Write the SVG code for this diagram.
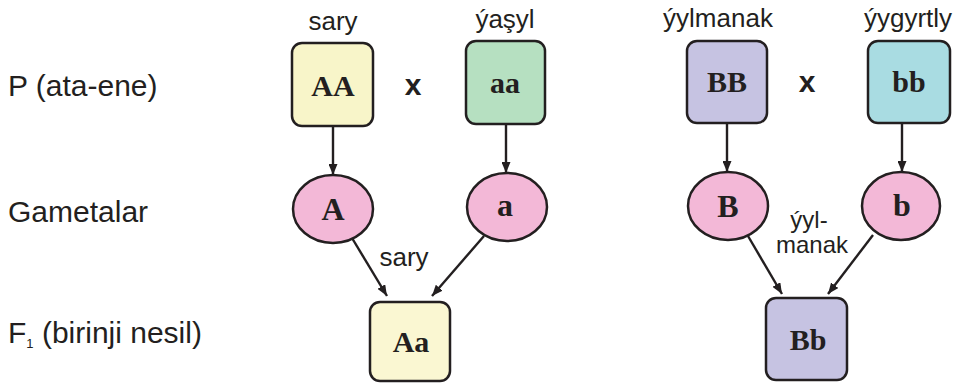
<svg xmlns="http://www.w3.org/2000/svg" width="959" height="383" viewBox="0 0 959 383">
<style>
.lbl{font-family:"Liberation Sans",Arial,sans-serif;font-size:26px;fill:#231f20;text-anchor:middle}
.lbl2{font-family:"Liberation Sans",Arial,sans-serif;font-size:24px;fill:#231f20;text-anchor:middle}
.side{font-family:"Liberation Sans",Arial,sans-serif;font-size:30px;fill:#231f20}
.gen{font-family:"Liberation Serif","Times New Roman",serif;font-weight:bold;font-size:30px;fill:#231f20;text-anchor:middle}
.gam{font-family:"Liberation Serif","Times New Roman",serif;font-weight:bold;font-size:32px;fill:#231f20;text-anchor:middle}
.cross{font-family:"Liberation Sans",Arial,sans-serif;font-weight:bold;font-size:30px;fill:#231f20;text-anchor:middle}
.box{stroke:#231f20;stroke-width:2.5}
.cell{fill:#f3b8d7;stroke:#231f20;stroke-width:2.5}
.conn line{stroke:#231f20;stroke-width:2.4;marker-end:url(#ah)}
</style>
<defs>
<marker id="ah" markerUnits="userSpaceOnUse" markerWidth="11" markerHeight="9" refX="11" refY="4.5" orient="auto">
<path d="M0,0 L11,4.5 L0,9 z" fill="#231f20"/>
</marker>
</defs>
<rect width="959" height="383" fill="#ffffff"/>

<g id="row-labels">
<text class="side" x="8" y="96">P (ata-ene)</text>
<text class="side" x="8" y="222">Gametalar</text>
<text class="side" x="8" y="343">F<tspan font-size="13" dy="5">1</tspan><tspan dy="-5"> (birinji nesil)</tspan></text>
</g>

<g id="connectors" class="conn">
<line x1="333" y1="126" x2="333" y2="175"/>
<line x1="506" y1="124" x2="506" y2="173"/>
<line x1="727" y1="124" x2="727" y2="172"/>
<line x1="902" y1="124" x2="902" y2="172"/>
<line x1="352" y1="238" x2="387" y2="296"/>
<line x1="484" y1="236" x2="432" y2="296"/>
<line x1="748" y1="236" x2="782" y2="294"/>
<line x1="873" y1="235" x2="828" y2="294"/>
</g>

<g id="node-AA">
<text class="lbl" x="333" y="30">sary</text>
<rect class="box" x="292" y="43" width="81" height="83" rx="10" fill="#f8f5c9"/>
<text class="gen" x="333" y="96">AA</text>
</g>
<text class="cross" x="413" y="95">x</text>
<g id="node-aa">
<text class="lbl" x="505" y="28">ýaşyl</text>
<rect class="box" x="466" y="41" width="79" height="83" rx="10" fill="#b6e0c1"/>
<text class="gen" x="505" y="93">aa</text>
</g>
<g id="node-A">
<ellipse class="cell" cx="333" cy="209" rx="40" ry="34"/>
<text class="gam" x="333" y="220">A</text>
</g>
<g id="node-a">
<ellipse class="cell" cx="507" cy="207" rx="40" ry="34"/>
<text class="gam" x="505" y="216">a</text>
</g>
<g id="node-Aa">
<text class="lbl" x="404" y="266">sary</text>
<rect class="box" x="370" y="302" width="80" height="79" rx="10" fill="#faf7d2"/>
<text class="gen" x="411" y="352">Aa</text>
</g>

<g id="node-BB">
<text class="lbl" x="718" y="27">ýylmanak</text>
<rect class="box" x="687" y="41" width="80" height="82" rx="10" fill="#c6c3e2"/>
<text class="gen" x="727" y="92">BB</text>
</g>
<text class="cross" x="807" y="92">x</text>
<g id="node-bb">
<text class="lbl" x="908" y="27">ýygyrtly</text>
<rect class="box" x="868" y="41" width="82" height="82" rx="10" fill="#a9dce2"/>
<text class="gen" x="909" y="92">bb</text>
</g>
<g id="node-B">
<ellipse class="cell" cx="728" cy="206" rx="40" ry="34"/>
<text class="gam" x="728" y="217">B</text>
</g>
<g id="node-b">
<ellipse class="cell" cx="901" cy="206" rx="39" ry="34"/>
<text class="gam" x="902" y="216">b</text>
</g>
<g id="node-Bb">
<text class="lbl2" x="809" y="228">ýyl-</text>
<text class="lbl2" x="812" y="253">manak</text>
<rect class="box" x="766" y="298" width="81" height="82" rx="10" fill="#c6c3e2"/>
<text class="gen" x="808" y="350">Bb</text>
</g>
</svg>
